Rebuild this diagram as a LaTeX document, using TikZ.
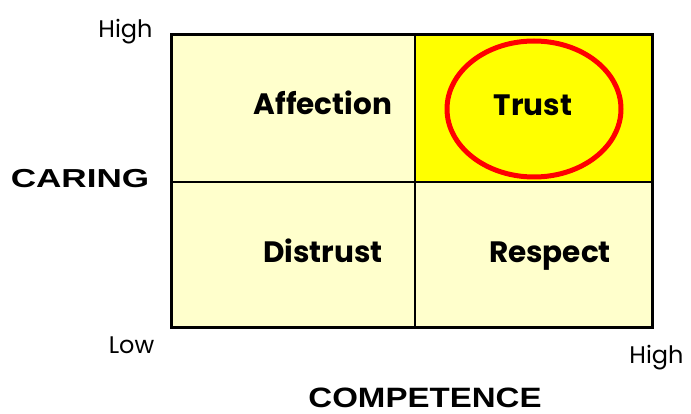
\documentclass[tikz,border=0pt]{standalone}
\usepackage{fontspec}
\usepackage{graphicx}
\usetikzlibrary{shapes.geometric}
\setmainfont{Poppins}
\newfontfamily\axisfont{Liberation Sans}
\definecolor{paleyellow}{HTML}{FFFFCC}
\definecolor{brightyellow}{HTML}{FFFF00}
\definecolor{ringred}{HTML}{FF0000}
\begin{document}
\begin{tikzpicture}[x=1pt,y=-1pt,
  quadlabel/.style={font=\fontsize{29.5}{31}\selectfont\bfseries, text=black, inner sep=0pt, anchor=base},
  ticklabel/.style={font=\fontsize{24}{26}\selectfont, text=black, inner sep=0pt, anchor=base},
  axislabel/.style={font=\axisfont\fontsize{26}{28}\selectfont\bfseries, text=black, inner sep=0pt, anchor=base}]
\useasboundingbox (0,0) rectangle (691,414);
% quadrants
\fill[paleyellow] (171,35) rectangle (652,327);
\fill[brightyellow] (415,35) rectangle (652,182);
\draw[line width=1.5pt] (415,35) -- (415,327);
\draw[line width=1.5pt] (171,182) -- (652,182);
\draw[line width=3pt] (171,35) rectangle (652,327);
% ring
\node[draw=ringred, line width=5pt, ellipse, minimum width=174pt, minimum height=136pt, inner sep=0pt] (ring) at (534,109) {};
% labels
\node[quadlabel] (aff) at (323,115) {Affection};
\node[quadlabel] (tru) at (533,116) {Trust};
\node[quadlabel] (dis) at (323,262) {Distrust};
\node[quadlabel] (res) at (550,262) {Respect};
\node[ticklabel] (highy) at (125.5,38) {High};
\node[ticklabel] (low) at (131.5,353) {Low};
\node[ticklabel] (highx) at (656.5,363) {High};
\node[axislabel] (caring) at (80,188) {\scalebox{1.35}[1]{CARING}};
\node[axislabel, font=\axisfont\fontsize{28}{30}\selectfont\bfseries] (comp) at (425,407) {\scalebox{1.18}[1]{COMPETENCE}};
\end{tikzpicture}
\end{document}
